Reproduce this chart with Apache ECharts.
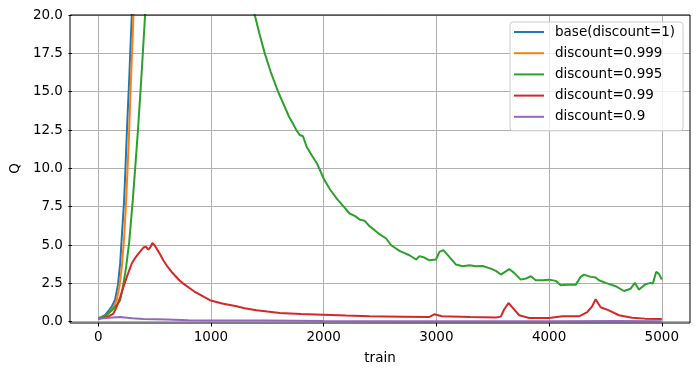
<!DOCTYPE html>
<html>
<head>
<meta charset="utf-8">
<script src="https://cdn.jsdelivr.net/npm/echarts@6/dist/echarts.min.js"></script>
<style>html,body{margin:0;padding:0;background:#fff;}#c{width:700px;height:376px;}</style>
</head>
<body>
<div id="c"></div>
<script>
// ---- data (x = train step, y = Q) ----
const seriesNames = ['base(discount=1)', 'discount=0.999', 'discount=0.995', 'discount=0.99', 'discount=0.9'];
const yTicks = [0, 2.5, 5, 7.5, 10, 12.5, 15, 17.5, 20];
const xTicks = [0, 1000, 2000, 3000, 4000, 5000];

const baseQ = [[0,0.25],[30,0.33],[60,0.45],[90,0.7],[120,1.0],[150,1.45],[175,2.4],[195,3.8],[215,6.2],[230,7.9],[242,10.0],[254,12.3],[264,14.0],[274,15.6],[286,17.8],[298,20.0],[320,24.5]];
const d999Q = [[0,0.25],[30,0.3],[60,0.4],[90,0.55],[120,0.8],[145,1.1],[165,1.45],[190,2.4],[210,3.6],[230,5.5],[248,7.9],[262,10.2],[274,12.3],[289,15.5],[300,17.5],[313,20.0],[330,23.5]];
const d995Q = [[0,0.25],[30,0.3],[60,0.4],[90,0.55],[120,0.75],[150,1.0],[175,1.2],[195,1.42],[220,2.3],[248,3.59],[275,5.2],[307,7.94],[330,10.2],[351,12.3],[366,14.0],[380,15.55],[400,18.0],[416,20.0],[450,26],[600,40],[800,45],[1000,38],[1200,28],[1340,22],[1389,20.0],[1430,18.8],[1478,17.5],[1530,16.3],[1596,15.0],[1650,14.1],[1693,13.37],[1730,12.9],[1758,12.5],[1788,12.18],[1817,12.1],[1850,11.4],[1900,10.8],[1941,10.33],[2003,9.3],[2060,8.6],[2120,8.0],[2180,7.5],[2230,7.07],[2280,6.9],[2319,6.68],[2363,6.6],[2407,6.24],[2450,6.0],[2496,5.72],[2555,5.44],[2599,5.0],[2673,4.63],[2761,4.35],[2820,4.07],[2850,4.29],[2894,4.2],[2938,4.02],[2997,4.07],[3027,4.57],[3062,4.68],[3115,4.24],[3174,3.74],[3233,3.63],[3292,3.7],[3351,3.63],[3410,3.65],[3484,3.48],[3528,3.33],[3572,3.09],[3646,3.45],[3690,3.2],[3749,2.76],[3794,2.83],[3838,2.98],[3882,2.72],[3941,2.72],[4000,2.76],[4059,2.68],[4103,2.39],[4148,2.42],[4236,2.42],[4280,2.94],[4310,3.09],[4369,2.94],[4413,2.9],[4442,2.72],[4502,2.55],[4590,2.33],[4664,2.02],[4723,2.17],[4761,2.55],[4796,2.11],[4855,2.46],[4900,2.55],[4920,2.5],[4950,3.26],[4973,3.15],[5000,2.77]];
const d99Q = [[0,0.2],[18,0.22],[60,0.3],[100,0.4],[135,0.55],[165,1.0],[195,1.63],[225,2.3],[254,2.94],[298,3.81],[330,4.2],[357,4.46],[401,4.85],[425,4.9],[445,4.72],[465,4.9],[481,5.15],[500,5.0],[519,4.78],[550,4.4],[578,4.02],[615,3.6],[652,3.26],[720,2.72],[755,2.5],[850,2.0],[991,1.42],[1100,1.2],[1227,1.02],[1300,0.9],[1404,0.76],[1500,0.68],[1611,0.59],[1800,0.52],[1994,0.48],[2200,0.42],[2407,0.37],[2700,0.35],[2938,0.33],[2982,0.5],[3050,0.37],[3300,0.32],[3528,0.3],[3572,0.35],[3600,0.8],[3640,1.24],[3680,0.9],[3735,0.44],[3823,0.26],[4000,0.26],[4118,0.37],[4265,0.37],[4339,0.65],[4380,1.0],[4413,1.48],[4457,0.96],[4531,0.76],[4619,0.44],[4737,0.28],[4850,0.22],[5000,0.2]];
const d9Q = [[0,0.22],[50,0.25],[100,0.28],[195,0.33],[300,0.25],[400,0.2],[608,0.16],[800,0.12],[1000,0.1],[1492,0.09],[2000,0.07],[3000,0.05],[4000,0.05],[4600,0.06],[5000,0.05]];

const allData = [baseQ, d999Q, d995Q, d99Q, d9Q];
const colors = ['#1f77b4', '#ff7f0e', '#2ca02c', '#d62728', '#9467bd'];

const FONT = 'DejaVu Sans';
const FS = 13.5;
const chart = echarts.init(document.getElementById('c'), null, {renderer: 'canvas'});
const hidden = {show: false};
chart.setOption({
  animation: false,
  backgroundColor: '#fff',
  textStyle: {fontFamily: FONT},
  grid: [
    {left: 70, right: 10, top: 15, bottom: 53, show: true, borderColor: '#000', borderWidth: 1, backgroundColor: 'transparent', z: 5},
    {left: 70, right: 10, top: 15, bottom: 54.3},
    {left: 98.2, width: 563.6, top: 15, bottom: 53}
  ],
  xAxis: [
    {gridIndex: 0, type: 'value', min: -250, max: 5250, axisLine: hidden, axisTick: hidden, axisLabel: hidden, splitLine: hidden},
    {gridIndex: 1, type: 'value', min: 0, max: 1, show: false},
    {gridIndex: 2, type: 'value', min: xTicks[0], max: xTicks[xTicks.length - 1], interval: 1000,
      axisLine: {show: false}, axisTick: {show: true, length: 3.5, inside: false, lineStyle: {color: '#000', width: 1}},
      axisLabel: {color: '#000', fontSize: FS, fontFamily: FONT, margin: 7, formatter: v => String(v)},
      splitLine: {show: true, lineStyle: {color: '#b0b0b0', width: 1}},
      name: 'train', nameLocation: 'middle', nameGap: 28, nameTextStyle: {color: '#000', fontSize: FS, fontFamily: FONT}}
  ],
  yAxis: [
    {gridIndex: 0, type: 'value', min: -0.065, max: 20, axisLine: hidden, axisTick: hidden, axisLabel: hidden, splitLine: hidden},
    {gridIndex: 1, type: 'value', min: yTicks[0], max: yTicks[yTicks.length - 1], interval: 2.5,
      axisLine: {show: false}, axisTick: {show: true, length: 3.5, inside: false, lineStyle: {color: '#000', width: 1}},
      axisLabel: {color: '#000', fontSize: FS, fontFamily: FONT, margin: 9, formatter: v => v.toFixed(1)},
      splitLine: {show: true, lineStyle: {color: '#b0b0b0', width: 1}},
      name: 'Q', nameLocation: 'middle', nameGap: 48, nameTextStyle: {color: '#000', fontSize: FS, fontFamily: FONT}},
    {gridIndex: 2, type: 'value', min: 0, max: 1, show: false}
  ],
  legend: {
    orient: 'vertical', left: 510, top: 22,
    padding: [3, 8, 7, 4], itemGap: 7.2, itemWidth: 30, itemHeight: 14,
    icon: 'path://M0,0H30V2H0Z', symbolKeepAspect: true,
    backgroundColor: 'rgba(255,255,255,0.8)', borderColor: '#cccccc', borderWidth: 1, borderRadius: 3,
    textStyle: {color: '#000', fontSize: FS, fontFamily: FONT, padding: [0, 0, 0, 6]},
    data: seriesNames
  },
  series: seriesNames.map((n, i) => ({
    name: n, type: 'line', xAxisIndex: 0, yAxisIndex: 0,
    data: allData[i], symbol: 'none', clip: true,
    lineStyle: {color: colors[i], width: 2}, itemStyle: {color: colors[i]}
  }))
});
</script>
</body>
</html>
